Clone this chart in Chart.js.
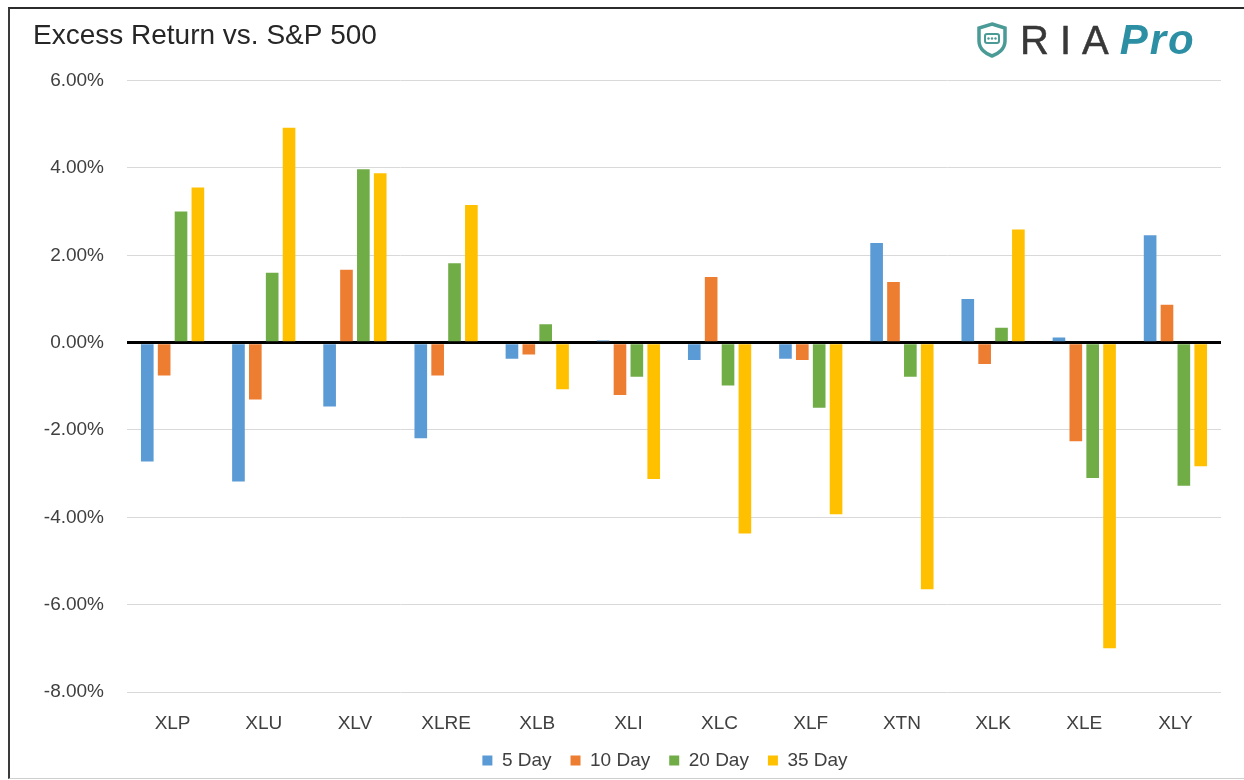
<!DOCTYPE html>
<html>
<head>
<meta charset="utf-8">
<script src="https://cdn.jsdelivr.net/npm/chart.js@4"></script>
<style>
  html, body { margin: 0; padding: 0; background: #fff; }
  #wrap { position: relative; width: 1244px; height: 780px; overflow: hidden; }
  #frame {
    position: absolute; left: 8px; top: 7px; right: -4px; bottom: 1px;
    border-top: 2px solid #2b2b2b; border-left: 2px solid #3a3a3a; border-bottom: 1px solid #cfcfcf;
    pointer-events: none;
  }
  #chart { position: absolute; left: 0; top: 0; }
  #logo { position: absolute; left: 976px; top: 19px; height: 42px; display: flex; align-items: center; }
  #logo .ria { font-family: "Liberation Sans", Arial, sans-serif; font-size: 40px; color: #383838; letter-spacing: 11px; margin-left: 12px; -webkit-text-stroke: 0.5px #383838; }
  #logo .pro { font-family: "Liberation Sans", Arial, sans-serif; font-size: 42px; font-weight: bold; font-style: italic; color: #2c8fa3; margin-left: 0; letter-spacing: 2px; }
</style>
</head>
<body>
<div id="wrap">
  <canvas id="chart" width="1244" height="780"></canvas>
  <div id="frame"></div>
  <div id="logo">
    <svg width="32" height="36" viewBox="0 0 32 36">
      <path d="M16 2 L29 6 L29 19 C29 27 22 32 16 34 C10 32 3 27 3 19 L3 6 Z" fill="none" stroke="#4a9a96" stroke-width="3.5"/>
      <rect x="9" y="12" width="14" height="9" rx="2" fill="none" stroke="#4a9a96" stroke-width="2"/>
      <circle cx="12.5" cy="16.5" r="1.2" fill="#4a9a96"/>
      <circle cx="16" cy="16.5" r="1.2" fill="#4a9a96"/>
      <circle cx="19.5" cy="16.5" r="1.2" fill="#4a9a96"/>
    </svg>
    <span class="ria">RIA</span><span class="pro">Pro</span>
  </div>
</div>
<script>
// категории и значения (в процентах)
const sectors = ['XLP', 'XLU', 'XLV', 'XLRE', 'XLB', 'XLI', 'XLC', 'XLF', 'XTN', 'XLK', 'XLE', 'XLY'];
const day5  = [-2.72, -3.18, -1.46, -2.19, -0.37,  0.05, -0.40, -0.37,  2.28,  1.00,  0.12,  2.46];
const day10 = [-0.75, -1.30,  1.67, -0.75, -0.27, -1.20,  1.50, -0.40,  1.39, -0.49, -2.26,  0.87];
const day20 = [ 3.00,  1.60,  3.97,  1.82,  0.42, -0.78, -0.98, -1.49, -0.78,  0.34, -3.10, -3.28];
const day35 = [ 3.55,  4.92,  3.88,  3.15, -1.07, -3.12, -4.37, -3.93, -5.65,  2.59, -7.00, -2.83];
const seriesNames = ['5 Day', '10 Day', '20 Day', '35 Day'];
const seriesColors = ['#5b9bd5', '#ed7d31', '#70ad47', '#ffc000'];

const textColor = '#404040';
const tickFont = { family: '"Liberation Sans", Arial, sans-serif', size: 19 };

// сдвиг легенды к центру области графика
const legendShift = {
  id: 'legendShift',
  afterLayout(chart) {
    chart.legend.left += 38;
    chart.legend.right += 38;
  }
};

const ctx = document.getElementById('chart').getContext('2d');
new Chart(ctx, {
  type: 'bar',
  data: {
    labels: sectors,
    datasets: [day5, day10, day20, day35].map((d, i) => ({
      label: seriesNames[i],
      data: d,
      backgroundColor: seriesColors[i],
      borderWidth: 0,
      categoryPercentage: 0.74,
      barPercentage: 0.75
    }))
  },
  plugins: [legendShift],
  options: {
    responsive: false,
    animation: false,
    layout: { padding: { left: 33, right: 23, top: 0, bottom: 0 } },
    plugins: {
      title: {
        display: true,
        text: 'Excess Return vs. S&P 500',
        align: 'start',
        color: '#262626',
        font: { family: '"Liberation Sans", Arial, sans-serif', size: 28, weight: 'normal' },
        padding: { top: 19, bottom: 28 }
      },
      legend: {
        position: 'bottom',
        labels: {
          color: textColor,
          font: tickFont,
          boxWidth: 10,
          boxHeight: 10,
          padding: 19
        }
      },
      tooltip: { enabled: false }
    },
    scales: {
      x: {
        grid: { display: false, drawTicks: false },
        border: { display: false },
        ticks: { color: textColor, font: tickFont, padding: 20 },
        afterFit: (scale) => { scale.height = 40; }
      },
      y: {
        min: -8,
        max: 6,
        border: { display: false },
        grid: {
          drawTicks: false,
          color: (c) => c.tick && c.tick.value === 0 ? '#000000' : '#d9d9d9',
          lineWidth: (c) => c.tick && c.tick.value === 0 ? 3 : 1
        },
        ticks: {
          stepSize: 2,
          color: textColor,
          font: tickFont,
          padding: 23,
          callback: (v) => v.toFixed(2) + '%'
        },
        afterFit: (scale) => { scale.width = 94; }
      }
    }
  }
});
</script>
</body>
</html>
